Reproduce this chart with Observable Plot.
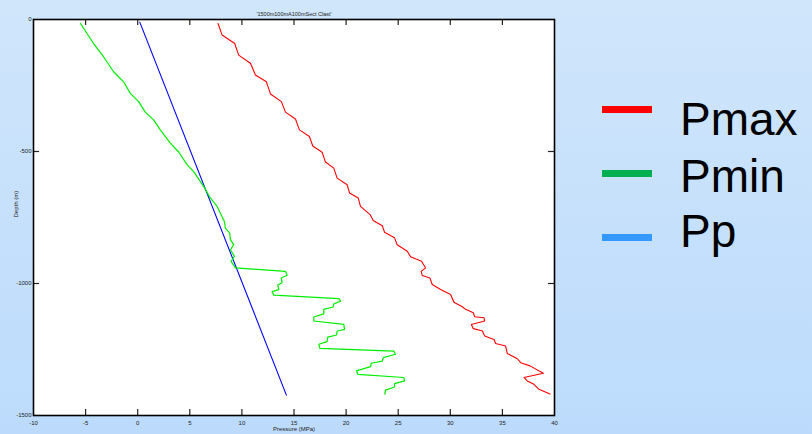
<!DOCTYPE html>
<html>
<head>
<meta charset="utf-8">
<script src="https://cdn.jsdelivr.net/npm/d3@7"></script>
<script src="https://cdn.jsdelivr.net/npm/@observablehq/plot@0.6"></script>
<style>
  html, body { margin: 0; padding: 0; }
  body { width: 812px; height: 434px; overflow: hidden;
         background: linear-gradient(to bottom, #d0e6fb, #bcdbfc);
         font-family: "Liberation Sans", Arial, sans-serif; }
  #wrap { position: relative; width: 812px; height: 434px; }
  #chart { position: absolute; left: 0; top: 0; }
  .lg-line { position: absolute; left: 602px; width: 50px; height: 7px; }
  .lg-text { position: absolute; left: 680px; font-size: 46px; line-height: 46px; color: #000; }
</style>
</head>
<body>
<div id="wrap">
  <div id="chart"></div>
  <div class="lg-line" style="top:106px;background:#ff0000"></div>
  <div class="lg-text" style="top:96px">Pmax</div>
  <div class="lg-line" style="top:170px;background:#00b050"></div>
  <div class="lg-text" style="top:153px">Pmin</div>
  <div class="lg-line" style="top:234px;background:#3399ff"></div>
  <div class="lg-text" style="top:208px">Pp</div>
</div>
<script>
const titleText = "'1500m100mA100mSect Clast'";
const xLabel = "Pressure (MPa)";
const yLabel = "Depth (m)";
const xTicks = [-10, -5, 0, 5, 10, 15, 20, 25, 30, 35, 40];
const yTicks = [0, -500, -1000, -1500];
const xInnerTicks = [-5, 0, 5, 10, 15, 20, 25, 30, 35];
const yInnerTicks = [-500, -1000];

const ppPressure = [0.2, 14.27];
const ppDepth = [-10, -1423];

const pminPressure = [-5.49, -4.24, -3.28, -2.31, -1.35, -0.71, 0.09, 0.73, 1.53, 2.17, 3.13, 3.93, 4.74, 5.37, 6.33, 6.97, 7.62, 8.32, 8.41, 8.83, 8.90, 9.21, 8.90, 9.28, 8.96, 9.38,
  14.18, 14.34, 13.77, 13.86, 13.44, 13.54, 12.9, 13.06,
  19.3, 19.46, 18.82, 18.76, 17.86, 17.86, 16.9, 16.9,
  19.78, 19.85, 19.14, 19.08, 18.24, 18.18, 17.38, 17.48,
  24.58, 24.74, 23.56, 23.47, 22.41, 22.35, 21.0, 21.13,
  25.54, 25.61, 24.65, 24.65, 23.78, 23.72];
const pminDepth = [-15, -91, -141, -198, -236, -280, -311, -351, -380, -418, -468, -502, -550, -576, -632, -676, -708, -765, -790, -809, -834, -853, -872, -897, -916, -941,
  -954, -969, -979, -997, -1006, -1023, -1031, -1044,
  -1057, -1067, -1077, -1089, -1098, -1115, -1127, -1142,
  -1155, -1174, -1180, -1195, -1203, -1220, -1230, -1246,
  -1256, -1268, -1281, -1294, -1302, -1315, -1331, -1344,
  -1356, -1369, -1379, -1392, -1404, -1419];

const pmaxPressure = [7.71, 8.1, 9.31, 9.69, 10.82, 11.3, 12.35, 12.74, 13.79, 14.18, 15.14, 15.52, 16.48, 16.8, 17.7, 18.02, 18.82, 19.14, 20.1, 20.33, 21.16, 21.38,
  22.3, 22.6, 23.47, 23.69, 24.65, 24.9, 25.87, 26.19, 27.24, 27.63, 27.21, 27.31, 28.04, 28.27, 29.07, 30.03, 30.35, 31.15, 31.47, 32.21, 32.34, 33.24, 33.3,
  32.02, 32.21, 33.08, 33.3, 34.19, 34.35, 35.31, 35.47, 36.44, 36.76, 37.65, 38.93, 37.07, 37.39, 38.03, 38.51, 39.57];
const pmaxDepth = [-15, -59, -91, -135, -166, -210, -236, -282, -311, -351, -377, -418, -443, -479, -503, -540, -563, -601, -626, -657, -676, -708,
  -739, -761, -781, -806, -827, -853, -878, -899, -916, -941, -954, -970, -979, -1004, -1023, -1042, -1071, -1088, -1098, -1111, -1126, -1130, -1142,
  -1155, -1171, -1180, -1199, -1212, -1227, -1237, -1265, -1285, -1300, -1312, -1340, -1356, -1369, -1382, -1401, -1419];

const toRows = (xs, ys) => xs.map((x, i) => ({x, y: ys[i]}));
const fmt = d => String(d);

const plot = Plot.plot({
  width: 812,
  height: 434,
  marginLeft: 33,
  marginRight: 258,
  marginTop: 19,
  marginBottom: 19,
  style: {background: "transparent", fontFamily: "Liberation Sans, Arial, sans-serif", color: "#222"},
  x: {domain: [-10, 40]},
  y: {domain: [-1500, 0]},
  marks: [
    Plot.frame({fill: "white", stroke: "none"}),
    Plot.axisX({anchor: "bottom", ticks: xTicks, tickSize: 0, tickPadding: 5, fontSize: 6, tickFormat: fmt, label: null}),
    Plot.axisY({anchor: "left", ticks: yTicks, tickSize: 0, tickPadding: 2, fontSize: 6, tickFormat: fmt, label: null}),
    Plot.ruleX(xInnerTicks, {x: d => d, y1: -1500, y2: -1477, stroke: "#222", strokeWidth: 1.2}),
    Plot.ruleX(xInnerTicks, {x: d => d, y1: 0, y2: -23, stroke: "#222", strokeWidth: 1.2}),
    Plot.ruleY(yInnerTicks, {y: d => d, x1: -10, x2: -9.42, stroke: "#222", strokeWidth: 1.2}),
    Plot.ruleY(yInnerTicks, {y: d => d, x1: 40, x2: 39.42, stroke: "#222", strokeWidth: 1.2}),
    Plot.line(toRows(ppPressure, ppDepth), {x: "x", y: "y", stroke: "#0000ff", strokeWidth: 1.1}),
    Plot.line(toRows(pminPressure, pminDepth), {x: "x", y: "y", stroke: "#00ee00", strokeWidth: 1.2, curve: "linear"}),
    Plot.line(toRows(pmaxPressure, pmaxDepth), {x: "x", y: "y", stroke: "#ff0000", strokeWidth: 1.1, curve: "linear"}),
    Plot.frame({stroke: "#000", strokeWidth: 1.6}),
    Plot.text([titleText], {frameAnchor: "top", text: d => d, dy: -7, fontSize: 5.5, fill: "#222"}),
    Plot.text([yLabel], {frameAnchor: "left", text: d => d, rotate: -90, dx: -17, fontSize: 6, fill: "#222"}),
    Plot.text([xLabel], {frameAnchor: "bottom", text: d => d, dy: 15, fontSize: 6, fill: "#222"})
  ]
});
document.getElementById("chart").appendChild(plot);
</script>
</body>
</html>
